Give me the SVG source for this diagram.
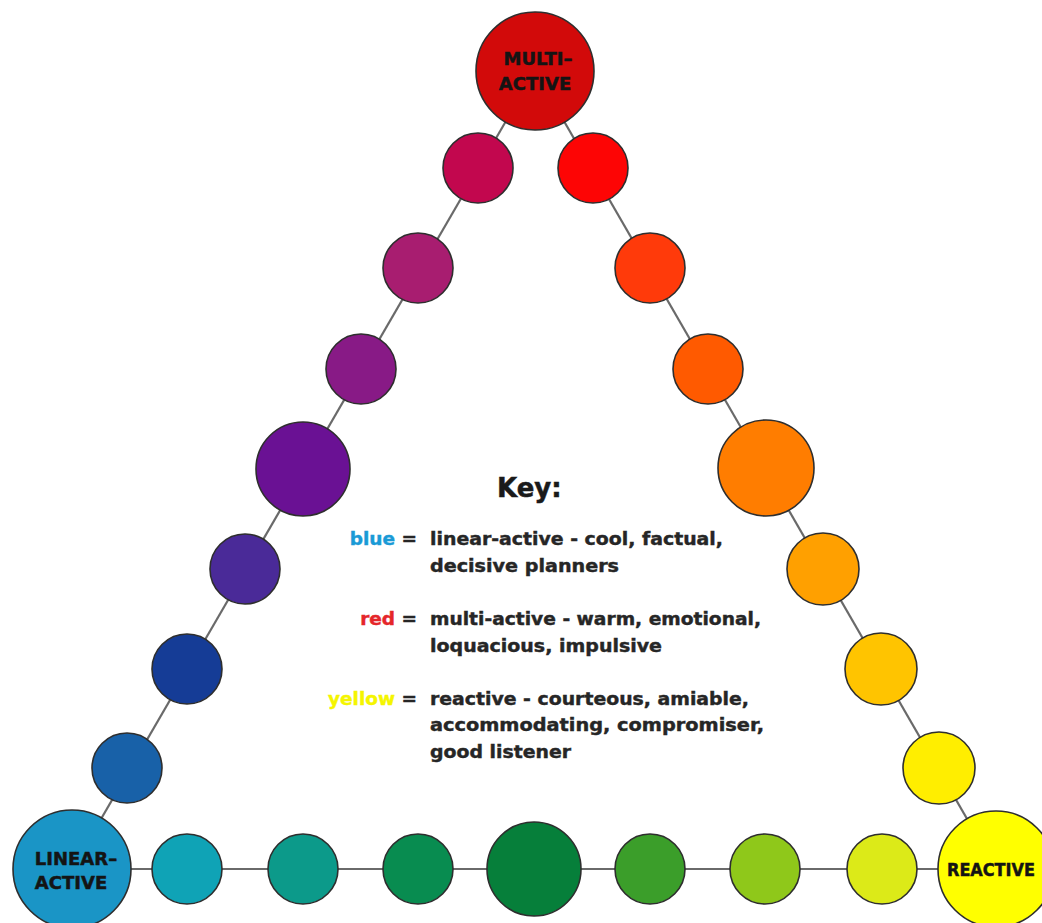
<svg xmlns="http://www.w3.org/2000/svg" width="1042" height="923" viewBox="0 0 1042 923">
<style>
.n{stroke:#2e2e2e;stroke-width:1.6}
.e{stroke:#6a6a6a;stroke-width:2.2;fill:none}
.lbl{font-family:"DejaVu Sans","Liberation Sans",sans-serif;font-weight:bold;font-size:18px;fill:#141414;stroke:#141414;stroke-width:0.5;text-anchor:middle}
.key{font-family:"DejaVu Sans","Liberation Sans",sans-serif;font-weight:bold;font-size:18.5px;fill:#262626;stroke:#262626;stroke-width:0.45}
.title{font-family:"DejaVu Sans","Liberation Sans",sans-serif;font-weight:bold;font-size:26px;fill:#1a1a1a;stroke:#1a1a1a;stroke-width:0.5}
</style>
<rect width="1042" height="923" fill="#ffffff"/>
<g id="connectors">
<line class="e" x1="72" y1="869" x2="535" y2="71"/>
<line class="e" x1="535" y1="71" x2="996" y2="869"/>
<line class="e" x1="72" y1="869" x2="996" y2="869"/>
</g>
<g id="multi-active"><circle class="n" cx="535" cy="71" r="59" fill="#d20a0a"/>
<text class="lbl" x="538" y="65">MULTI–</text><text class="lbl" x="535" y="90">ACTIVE</text></g>
<g id="l1"><circle class="n" cx="478" cy="168" r="35" fill="#c2074e"/></g>
<g id="l2"><circle class="n" cx="418" cy="268" r="35" fill="#a81d70"/></g>
<g id="l3"><circle class="n" cx="361" cy="369" r="35" fill="#881a86"/></g>
<g id="l4"><circle class="n" cx="303" cy="469" r="47" fill="#6a1194"/></g>
<g id="l5"><circle class="n" cx="245" cy="569" r="35" fill="#4a2a98"/></g>
<g id="l6"><circle class="n" cx="187" cy="669" r="35" fill="#153c96"/></g>
<g id="l7"><circle class="n" cx="127" cy="768" r="35" fill="#1861a8"/></g>
<g id="linear-active"><circle class="n" cx="72" cy="869" r="59" fill="#1a95c6"/>
<text class="lbl" x="76" y="865">LINEAR–</text><text class="lbl" x="71" y="889">ACTIVE</text></g>
<g id="r1"><circle class="n" cx="593" cy="168" r="35" fill="#fd0505"/></g>
<g id="r2"><circle class="n" cx="650" cy="268" r="35" fill="#ff3a0a"/></g>
<g id="r3"><circle class="n" cx="708" cy="369" r="35" fill="#ff5a00"/></g>
<g id="r4"><circle class="n" cx="766" cy="468" r="48" fill="#ff7d00"/></g>
<g id="r5"><circle class="n" cx="823" cy="569" r="36" fill="#ffa000"/></g>
<g id="r6"><circle class="n" cx="881" cy="669" r="36" fill="#ffc400"/></g>
<g id="r7"><circle class="n" cx="939" cy="768" r="36" fill="#ffee00"/></g>
<g id="reactive"><circle class="n" cx="996" cy="869" r="58" fill="#ffff00"/>
<text class="lbl" x="947" y="876" style="text-anchor:start" textLength="88" lengthAdjust="spacingAndGlyphs">REACTIVE</text></g>
<g id="b1"><circle class="n" cx="187" cy="869" r="35" fill="#0fa3b6"/></g>
<g id="b2"><circle class="n" cx="303" cy="869" r="35" fill="#0c9a8a"/></g>
<g id="b3"><circle class="n" cx="418" cy="869" r="35" fill="#088c50"/></g>
<g id="b4"><circle class="n" cx="534" cy="869" r="47" fill="#067f3a"/></g>
<g id="b5"><circle class="n" cx="650" cy="869" r="35" fill="#3b9e2a"/></g>
<g id="b6"><circle class="n" cx="765" cy="869" r="35" fill="#8fc81a"/></g>
<g id="b7"><circle class="n" cx="882" cy="869" r="35" fill="#dcea18"/></g>
<g id="key">
<text class="title" x="497" y="497">Key:</text>
<text class="key" x="417" y="545" text-anchor="end"><tspan fill="#1a9ad6" stroke="#1a9ad6">blue</tspan> =</text>
<text class="key" x="430" y="545" textLength="293" lengthAdjust="spacingAndGlyphs">linear-active - cool, factual,</text>
<text class="key" x="430" y="572" textLength="189" lengthAdjust="spacingAndGlyphs">decisive planners</text>
<text class="key" x="417" y="625" text-anchor="end"><tspan fill="#e5262a" stroke="#e5262a">red</tspan> =</text>
<text class="key" x="430" y="625" textLength="331" lengthAdjust="spacingAndGlyphs">multi-active - warm, emotional,</text>
<text class="key" x="430" y="652" textLength="232" lengthAdjust="spacingAndGlyphs">loquacious, impulsive</text>
<text class="key" x="417" y="705" text-anchor="end"><tspan fill="#f5f500" stroke="#f5f500">yellow</tspan> =</text>
<text class="key" x="430" y="705" textLength="319" lengthAdjust="spacingAndGlyphs">reactive - courteous, amiable,</text>
<text class="key" x="430" y="731" textLength="334" lengthAdjust="spacingAndGlyphs">accommodating, compromiser,</text>
<text class="key" x="430" y="758" textLength="141" lengthAdjust="spacingAndGlyphs">good listener</text>
</g>
</svg>
